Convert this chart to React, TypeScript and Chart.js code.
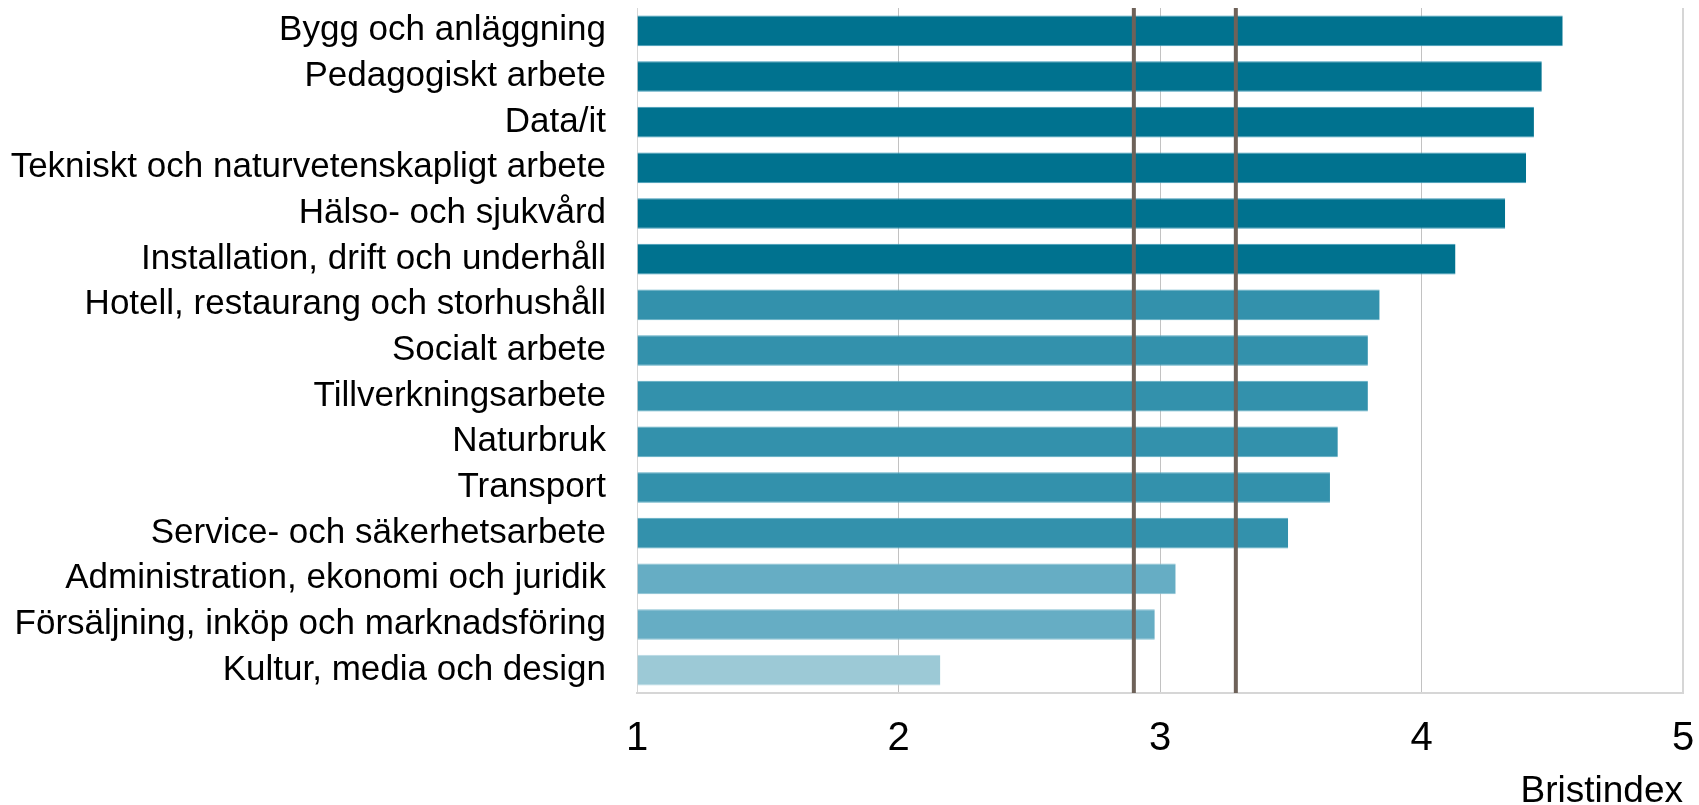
import React, { useEffect, useRef } from "react";
import { Chart, registerables } from "chart.js";

Chart.register(...registerables);

const categories = [
  "Bygg och anläggning",
  "Pedagogiskt arbete",
  "Data/it",
  "Tekniskt och naturvetenskapligt arbete",
  "Hälso- och sjukvård",
  "Installation, drift och underhåll",
  "Hotell, restaurang och storhushåll",
  "Socialt arbete",
  "Tillverkningsarbete",
  "Naturbruk",
  "Transport",
  "Service- och säkerhetsarbete",
  "Administration, ekonomi och juridik",
  "Försäljning, inköp och marknadsföring",
  "Kultur, media och design",
];

const values = [4.54, 4.46, 4.43, 4.4, 4.32, 4.13, 3.84, 3.795, 3.795, 3.68, 3.65, 3.49, 3.06, 2.98, 2.16];

// colour group per bar (0 = darkest)
const groups = [0, 0, 0, 0, 0, 0, 1, 1, 1, 1, 1, 1, 2, 2, 3];
const groupColors = ["#00728F", "#3391AC", "#66ADC4", "#9CC9D6"];
const groupEdges = ["#3E9BB8", "#5AAAC2", "#86C0D2", "#B5D8E3"];

const refLines = [2.9, 3.29];
const xTicks = [1, 2, 3, 4, 5];
const xTitle = "Bristindex";

const refLinePlugin = {
  id: "refLines",
  afterDatasetsDraw(chart: any) {
    const { ctx, chartArea, scales } = chart;
    ctx.save();
    ctx.strokeStyle = "#6E6259";
    ctx.lineWidth = 4;
    for (const v of refLines) {
      const x = scales.x.getPixelForValue(v);
      ctx.beginPath();
      ctx.moveTo(x, chartArea.top);
      ctx.lineTo(x, chartArea.bottom);
      ctx.stroke();
    }
    ctx.restore();
  },
};

export default function App() {
  const ref = useRef<HTMLCanvasElement | null>(null);

  useEffect(() => {
    if (!ref.current) return;
    const chart = new Chart(ref.current, {
      type: "bar",
      data: {
        labels: categories,
        datasets: [
          {
            data: values,
            base: 1,
            backgroundColor: groups.map((g) => groupColors[g]),
            borderColor: groups.map((g) => groupEdges[g]),
            borderWidth: { top: 1, bottom: 1, left: 0, right: 0 },
            borderSkipped: false,
            barPercentage: 0.672,
            categoryPercentage: 1,
          } as any,
        ],
      },
      options: {
        indexAxis: "y",
        animation: false,
        responsive: true,
        maintainAspectRatio: false,
        layout: { padding: { left: 0, right: 16, top: 8, bottom: 0 } },
        plugins: {
          legend: { display: false },
          tooltip: { enabled: false },
          title: { display: false },
        },
        scales: {
          x: {
            type: "linear",
            min: 1,
            max: 5,
            afterBuildTicks: (scale: any) => {
              scale.ticks = xTicks.map((v) => ({ value: v }));
            },
            afterFit: (scale: any) => {
              scale.height = 112;
              scale.paddingLeft = 0;
              scale.paddingRight = 0;
            },
            ticks: {
              stepSize: 1,
              padding: 22,
              color: "#000",
              font: { family: "'Liberation Sans', Arial, sans-serif", size: 40 },
            },
            grid: {
              drawTicks: false,
              color: (ctx: any) =>
                ctx.tick && (ctx.tick.value === 5 || ctx.tick.value === 1) ? "#D6D6D6" : "#C2C2C2",
              lineWidth: (ctx: any) => (ctx.tick && ctx.tick.value === 5 ? 2 : 1),
            },
            border: { display: true, color: "#D6D6D6", width: 2 },
            title: {
              display: true,
              text: xTitle,
              align: "end",
              color: "#000",
              padding: { top: 0, bottom: 0 },
              font: { family: "'Liberation Sans', Arial, sans-serif", size: 37, lineHeight: 0.7 },
            },
          },
          y: {
            afterFit: (scale: any) => {
              scale.width = 637;
              scale.paddingTop = 0;
              scale.paddingBottom = 0;
            },
            ticks: {
              padding: 31,
              color: "#000",
              autoSkip: false,
              font: { family: "'Liberation Sans', Arial, sans-serif", size: 35 },
            },
            grid: { display: false, drawTicks: false },
            border: { display: true, color: "#D6D6D6", width: 1 },
          },
        },
      },
      plugins: [refLinePlugin],
    });
    return () => chart.destroy();
  }, []);

  return (
    <div style={{ position: "fixed", left: 0, top: 0, width: 1699, height: 805, background: "#fff" }}>
      <canvas ref={ref} />
    </div>
  );
}
